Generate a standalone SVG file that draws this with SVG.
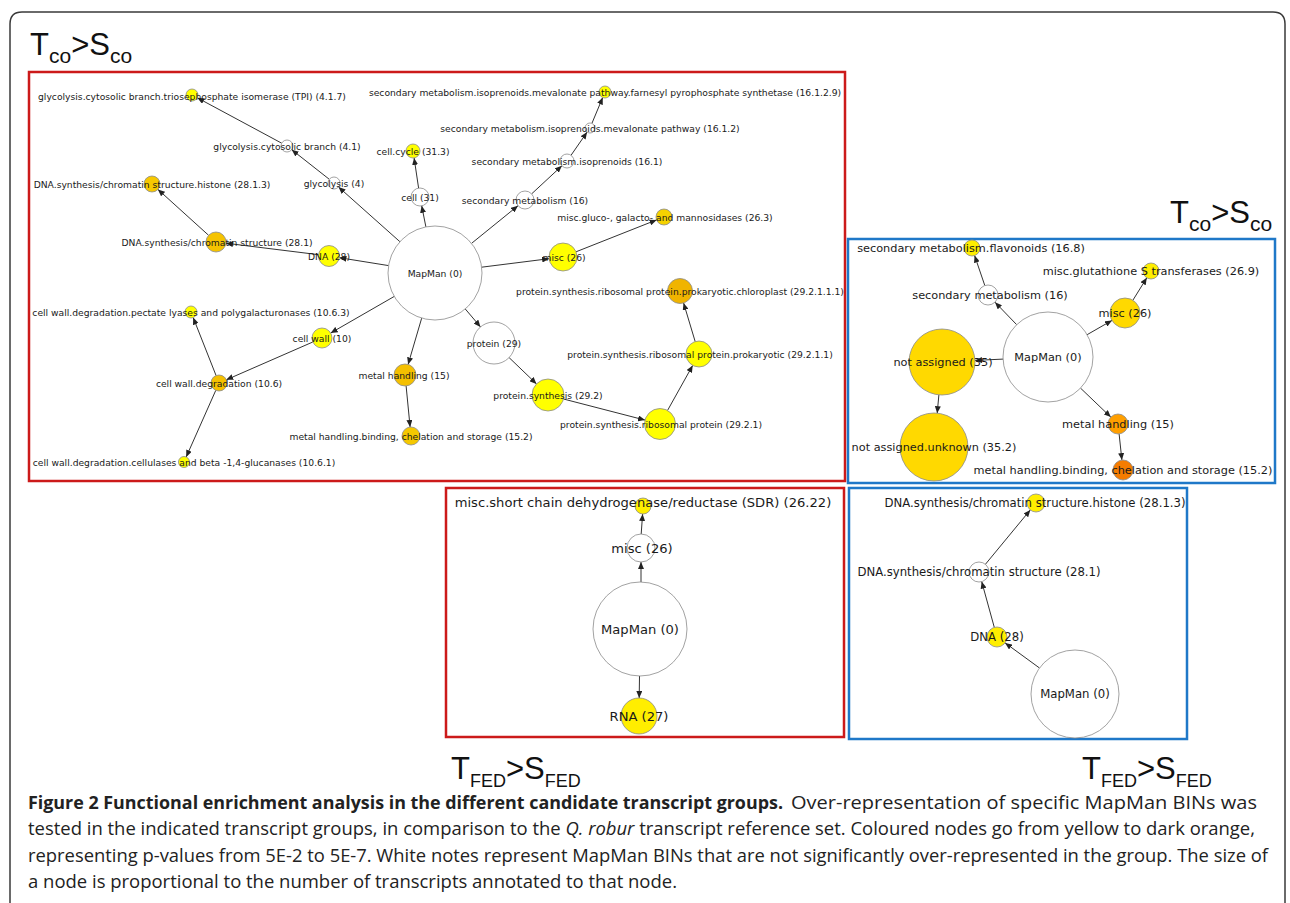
<svg xmlns="http://www.w3.org/2000/svg" width="1290" height="903" viewBox="0 0 1290 903">
<defs>
<marker id="ah" markerUnits="userSpaceOnUse" markerWidth="8" markerHeight="6" refX="7" refY="3" orient="auto">
<path d="M0,0 L7,3 L0,6 z" fill="#222"/>
</marker>
<style>
.frame{fill:none;stroke:#3a3a3a;stroke-width:1.5}
.red{fill:none;stroke:#cc1a1a;stroke-width:2.5}
.blue{fill:none;stroke:#1f78c8;stroke-width:2.5}
.e{stroke:#333;stroke-width:1;fill:none;marker-end:url(#ah)}
.n{stroke:#8a8a8a;stroke-width:0.8}
.w{fill:#ffffff}
.y{fill:#ffff00}
.y2{fill:#ffee00}
.gd{fill:#ffd900}
.o{fill:#ff9f00}
.od{fill:#f57c00}
text.l{font-family:"DejaVu Sans",sans-serif;fill:#1a1a1a;text-anchor:middle;dominant-baseline:central}
.fa{font-size:9.2px}
.fb{font-size:11.3px}
.fc{font-size:13.1px}
.fd{font-size:11.7px}
.tt{font-family:"Liberation Sans",Arial,sans-serif;font-size:31px;fill:#111}
.cap{font-family:"Open Sans","Liberation Sans",sans-serif;font-size:18.5px;fill:#222}
.b{font-weight:bold}
.i{font-style:italic}
</style>
</defs>
<rect width="1290" height="903" fill="#ffffff"/>
<path class="frame" d="M10,903 V24 Q10,12 22,12 H1273 Q1285,12 1285,24 V903"/>

<!-- panel boxes -->
<rect class="red" x="29" y="72" width="816" height="409"/>
<rect class="blue" x="848" y="239" width="427" height="244"/>
<rect class="red" x="446" y="488" width="398" height="249"/>
<rect class="blue" x="849" y="488" width="338" height="251"/>

<!-- titles -->
<text class="tt" x="30" y="55">T<tspan font-size="21" dy="8">co</tspan><tspan dy="-8">&gt;S</tspan><tspan font-size="21" dy="8">co</tspan></text>
<text class="tt" x="1170" y="223">T<tspan font-size="21" dy="8">co</tspan><tspan dy="-8">&gt;S</tspan><tspan font-size="21" dy="8">co</tspan></text>
<text class="tt" x="451" y="779">T<tspan font-size="18" dy="8">FED</tspan><tspan dy="-8">&gt;S</tspan><tspan font-size="18" dy="8">FED</tspan></text>
<text class="tt" x="1082" y="779">T<tspan font-size="18" dy="8">FED</tspan><tspan dy="-8">&gt;S</tspan><tspan font-size="18" dy="8">FED</tspan></text>

<!-- connectors -->
<g id="connectors">
<line class="e" x1="399.9" y1="241.7" x2="338.5" y2="187.0"/>
<line class="e" x1="329.3" y1="179.3" x2="291.7" y2="149.7"/>
<line class="e" x1="281.7" y1="143.2" x2="197.3" y2="97.8"/>
<line class="e" x1="425.9" y1="226.9" x2="421.7" y2="205.8"/>
<line class="e" x1="418.6" y1="188.1" x2="414.1" y2="157.9"/>
<line class="e" x1="388.6" y1="265.6" x2="339.4" y2="257.7"/>
<line class="e" x1="318.6" y1="254.7" x2="225.9" y2="243.2"/>
<line class="e" x1="208.6" y1="235.3" x2="157.9" y2="189.4"/>
<line class="e" x1="471.5" y1="243.4" x2="518.0" y2="205.7"/>
<line class="e" x1="531.6" y1="193.9" x2="561.9" y2="165.8"/>
<line class="e" x1="571.0" y1="155.3" x2="587.1" y2="132.1"/>
<line class="e" x1="591.9" y1="123.4" x2="602.7" y2="97.5"/>
<line class="e" x1="481.6" y1="267.2" x2="549.1" y2="258.7"/>
<line class="e" x1="576.0" y1="251.8" x2="656.6" y2="219.9"/>
<line class="e" x1="465.3" y1="309.0" x2="480.5" y2="326.9"/>
<line class="e" x1="509.1" y1="357.6" x2="536.5" y2="383.9"/>
<line class="e" x1="563.5" y1="399.0" x2="645.0" y2="420.1"/>
<line class="e" x1="667.5" y1="410.5" x2="692.7" y2="365.4"/>
<line class="e" x1="695.2" y1="341.6" x2="683.6" y2="303.0"/>
<line class="e" x1="421.7" y1="318.1" x2="408.1" y2="364.4"/>
<line class="e" x1="406.1" y1="385.9" x2="410.1" y2="427.0"/>
<line class="e" x1="394.3" y1="296.4" x2="330.7" y2="333.0"/>
<line class="e" x1="312.8" y1="342.0" x2="226.3" y2="379.8"/>
<line class="e" x1="216.1" y1="375.6" x2="193.2" y2="317.6"/>
<line class="e" x1="215.8" y1="390.3" x2="186.2" y2="457.0"/>

<line class="e" x1="1016.7" y1="324.7" x2="995.0" y2="302.2"/>
<line class="e" x1="984.8" y1="285.5" x2="974.6" y2="255.6"/>
<line class="e" x1="1087.1" y1="334.7" x2="1112.0" y2="320.4"/>
<line class="e" x1="1132.9" y1="300.2" x2="1146.8" y2="277.8"/>
<line class="e" x1="1003.0" y1="359.1" x2="975.0" y2="360.4"/>
<line class="e" x1="938.9" y1="394.8" x2="937.2" y2="413.2"/>
<line class="e" x1="1080.5" y1="388.1" x2="1110.8" y2="417.1"/>
<line class="e" x1="1119.1" y1="433.9" x2="1121.9" y2="460.1"/>

<line class="e" x1="641" y1="582" x2="641" y2="562"/>
<line class="e" x1="641.2" y1="534" x2="642.6" y2="514"/>
<line class="e" x1="639.5" y1="676" x2="639.2" y2="698"/>

<line class="e" x1="1039.5" y1="668" x2="1005.1" y2="642.9"/>
<line class="e" x1="994.3" y1="627.4" x2="981.7" y2="581.6"/>
<line class="e" x1="985.4" y1="564.3" x2="1030.3" y2="509.9"/>
</g>

<!-- panel A: Tco>Sco (left) -->
<g id="a-mapman"><circle class="n w" cx="435" cy="273" r="47"/><text class="l fa" x="435" y="273">MapMan (0)</text></g>
<g id="a-glyc"><circle class="n w" cx="334" cy="183" r="6"/><text class="l fa" x="334" y="183">glycolysis (4)</text></g>
<g id="a-cyt"><circle class="n w" cx="287" cy="146" r="6"/><text class="l fa" x="287" y="146">glycolysis.cytosolic branch (4.1)</text></g>
<g id="a-tpi"><circle class="n y" cx="192" cy="95" r="6"/><text class="l fa" x="192" y="96">glycolysis.cytosolic branch.triosephosphate isomerase (TPI) (4.1.7)</text></g>
<g id="a-cell"><circle class="n w" cx="420" cy="197" r="9"/><text class="l fa" x="420" y="197">cell (31)</text></g>
<g id="a-cellcycle"><circle class="n y" cx="413" cy="151" r="7"/><text class="l fa" x="413" y="151">cell.cycle (31.3)</text></g>
<g id="a-dna"><circle class="n y" cx="329" cy="256" r="10.5"/><text class="l fa" x="329" y="256">DNA (28)</text></g>
<g id="a-dna281"><circle class="n" fill="#f5c300" cx="216" cy="242" r="10"/><text class="l fa" x="217" y="242">DNA.synthesis/chromatin structure (28.1)</text></g>
<g id="a-histone"><circle class="n" fill="#f7c800" cx="152" cy="184" r="8"/><text class="l fa" x="152" y="184">DNA.synthesis/chromatin structure.histone (28.1.3)</text></g>
<g id="a-secmet"><circle class="n w" cx="525" cy="200" r="9"/><text class="l fa" x="525" y="200">secondary metabolism (16)</text></g>
<g id="a-isopren"><circle class="n w" cx="567" cy="161" r="7"/><text class="l fa" x="567" y="161">secondary metabolism.isoprenoids (16.1)</text></g>
<g id="a-meval"><circle class="n w" cx="590" cy="128" r="5"/><text class="l fa" x="590" y="128">secondary metabolism.isoprenoids.mevalonate pathway (16.1.2)</text></g>
<g id="a-farnesyl"><circle class="n y" cx="605" cy="92" r="6"/><text class="l fa" x="605" y="92">secondary metabolism.isoprenoids.mevalonate pathway.farnesyl pyrophosphate synthetase (16.1.2.9)</text></g>
<g id="a-misc"><circle class="n y" cx="563" cy="257" r="14"/><text class="l fa" x="564" y="257">misc (26)</text></g>
<g id="a-gluco"><circle class="n" fill="#f5d200" cx="664" cy="217" r="8"/><text class="l fa" x="665" y="217">misc.gluco-, galacto- and mannosidases (26.3)</text></g>
<g id="a-protein"><circle class="n w" cx="494" cy="343" r="21"/><text class="l fa" x="494" y="343">protein (29)</text></g>
<g id="a-protsyn"><circle class="n y" cx="548" cy="395" r="16"/><text class="l fa" x="548" y="395">protein.synthesis (29.2)</text></g>
<g id="a-ribo"><circle class="n y" cx="660" cy="424" r="15.5"/><text class="l fa" x="661" y="424">protein.synthesis.ribosomal protein (29.2.1)</text></g>
<g id="a-prok"><circle class="n y" cx="699" cy="354" r="13"/><text class="l fa" x="700" y="354">protein.synthesis.ribosomal protein.prokaryotic (29.2.1.1)</text></g>
<g id="a-chloro"><circle class="n" fill="#f0b400" cx="680" cy="291" r="12.5"/><text class="l fa" x="680" y="291">protein.synthesis.ribosomal protein.prokaryotic.chloroplast (29.2.1.1.1)</text></g>
<g id="a-metal"><circle class="n" fill="#f5c000" cx="405" cy="375" r="11"/><text class="l fa" x="404" y="375">metal handling (15)</text></g>
<g id="a-metal152"><circle class="n" fill="#f5c800" cx="411" cy="436" r="9"/><text class="l fa" x="411" y="436">metal handling.binding, chelation and storage (15.2)</text></g>
<g id="a-cellwall"><circle class="n y" cx="322" cy="338" r="10"/><text class="l fa" x="322" y="338">cell wall (10)</text></g>
<g id="a-degrad"><circle class="n" fill="#f5c000" cx="219" cy="383" r="8"/><text class="l fa" x="219" y="383">cell wall.degradation (10.6)</text></g>
<g id="a-pectate"><circle class="n y" cx="191" cy="312" r="6"/><text class="l fa" x="191" y="312">cell wall.degradation.pectate lyases and polygalacturonases (10.6.3)</text></g>
<g id="a-cellulase"><circle class="n y" cx="184" cy="462" r="5.5"/><text class="l fa" x="184" y="462">cell wall.degradation.cellulases and beta -1,4-glucanases (10.6.1)</text></g>

<!-- panel B: Tco>Sco (right) -->
<g id="b-mapman"><circle class="n w" cx="1048" cy="357" r="45"/><text class="l fb" x="1048" y="357">MapMan (0)</text></g>
<g id="b-secmet"><circle class="n w" cx="988" cy="295" r="10"/><text class="l fb" x="990" y="295">secondary metabolism (16)</text></g>
<g id="b-flav"><circle class="n y2" cx="972" cy="248" r="8"/><text class="l fb" x="971" y="248">secondary metabolism.flavonoids (16.8)</text></g>
<g id="b-misc"><circle class="n gd" cx="1125" cy="313" r="15"/><text class="l fb" x="1125" y="313">misc (26)</text></g>
<g id="b-gst"><circle class="n y2" cx="1151" cy="271" r="8"/><text class="l fb" x="1151" y="271">misc.glutathione S transferases (26.9)</text></g>
<g id="b-notass"><circle class="n gd" cx="942" cy="362" r="33"/><text class="l fb" x="943" y="362">not assigned (35)</text></g>
<g id="b-unknown"><circle class="n gd" cx="934" cy="447" r="34"/><text class="l fb" x="934" y="447">not assigned.unknown (35.2)</text></g>
<g id="b-metal"><circle class="n o" cx="1118" cy="424" r="10"/><text class="l fb" x="1118" y="424">metal handling (15)</text></g>
<g id="b-metal152"><circle class="n od" cx="1123" cy="470" r="10"/><text class="l fb" x="1123" y="470">metal handling.binding, chelation and storage (15.2)</text></g>

<!-- panel C: TFED>SFED (middle) -->
<g id="c-mapman"><circle class="n w" cx="640" cy="629" r="47"/><text class="l fc" x="640" y="629">MapMan (0)</text></g>
<g id="c-misc"><circle class="n w" cx="641" cy="548" r="14"/><text class="l fc" x="642" y="548">misc (26)</text></g>
<g id="c-sdr"><circle class="n y2" cx="643" cy="506" r="8"/><text class="l fc" x="643" y="502">misc.short chain dehydrogenase/reductase (SDR) (26.22)</text></g>
<g id="c-rna"><circle class="n y2" cx="639" cy="716" r="18"/><text class="l fc" x="639" y="716">RNA (27)</text></g>

<!-- panel D: TFED>SFED (right) -->
<g id="d-mapman"><circle class="n w" cx="1075" cy="694" r="44"/><text class="l fd" x="1075" y="694">MapMan (0)</text></g>
<g id="d-dna"><circle class="n y2" cx="997" cy="637" r="10"/><text class="l fd" x="997" y="637">DNA (28)</text></g>
<g id="d-dna281"><circle class="n w" cx="979" cy="572" r="10"/><text class="l fd" x="979" y="572">DNA.synthesis/chromatin structure (28.1)</text></g>
<g id="d-histone"><circle class="n y2" cx="1036" cy="503" r="9"/><text class="l fd" x="1035" y="503">DNA.synthesis/chromatin structure.histone (28.1.3)</text></g>

<!-- caption -->
<g id="caption">
<text class="cap b" x="28" y="809" textLength="755" lengthAdjust="spacingAndGlyphs">Figure 2 Functional enrichment analysis in the different candidate transcript groups.</text>
<text class="cap" x="791" y="809" textLength="466" lengthAdjust="spacingAndGlyphs">Over-representation of specific MapMan BINs was</text>
<text class="cap" x="28" y="835" textLength="1227" lengthAdjust="spacingAndGlyphs">tested in the indicated transcript groups, in comparison to the <tspan class="i">Q. robur</tspan> transcript reference set. Coloured nodes go from yellow to dark orange,</text>
<text class="cap" x="28" y="862" textLength="1240" lengthAdjust="spacingAndGlyphs">representing p-values from 5E-2 to 5E-7. White notes represent MapMan BINs that are not significantly over-represented in the group. The size of</text>
<text class="cap" x="28" y="888" textLength="649" lengthAdjust="spacingAndGlyphs">a node is proportional to the number of transcripts annotated to that node.</text>
</g>
</svg>
